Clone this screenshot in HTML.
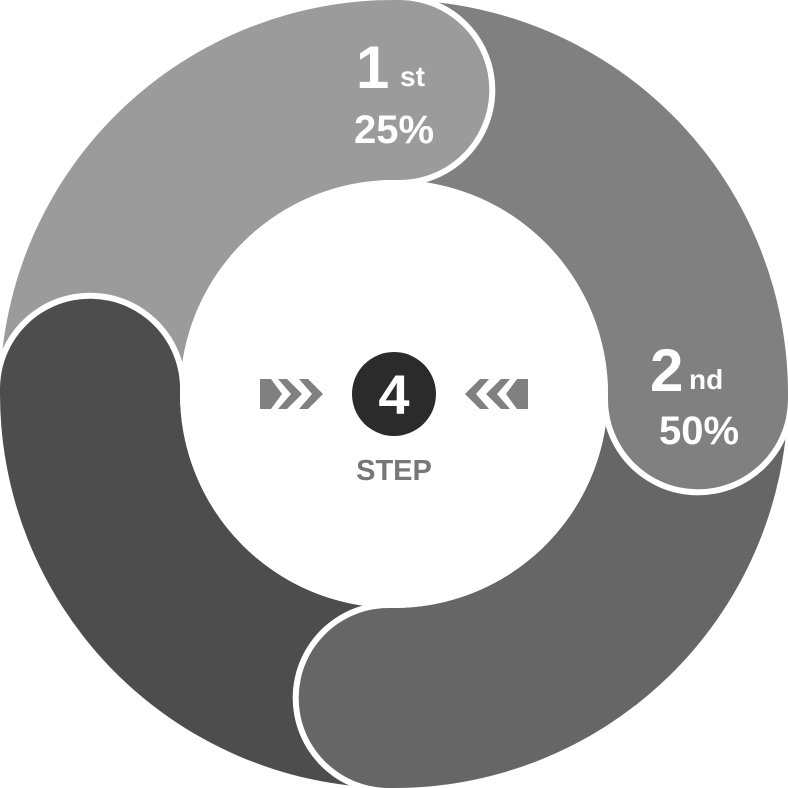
<!DOCTYPE html>
<html><head><style>html,body{margin:0;padding:0;background:#fff}svg{display:block}</style></head>
<body>
<svg width="788" height="788" viewBox="0 0 788 788" xmlns="http://www.w3.org/2000/svg" font-family="Liberation Sans, sans-serif">
<defs>
<path id="sec" d="M394,0 A394,394 0 0 1 788,394 L608,394 A214,214 0 0 0 394,180 Z"/>
<path id="capw" d="M602,394 A96,96 0 0 0 794,394 Z"/>
<path id="cap" d="M608,390 L608,394 A90,90 0 0 0 788,394 L788,390 Z"/>
</defs>
<use href="#sec" fill="#9b9b9b" transform="rotate(-89 394 394)"/>
<use href="#sec" fill="#808080" transform="rotate(1 394 394)"/>
<use href="#sec" fill="#666666" transform="rotate(91 394 394)"/>
<use href="#sec" fill="#4d4d4d" transform="rotate(181 394 394)"/>
<g transform="rotate(-89 394 394)"><use href="#capw" fill="#fff"/><use href="#cap" fill="#9b9b9b"/></g>
<g transform="rotate(1 394 394)"><use href="#capw" fill="#fff"/><use href="#cap" fill="#808080"/></g>
<g transform="rotate(91 394 394)"><use href="#capw" fill="#fff"/><use href="#cap" fill="#666666"/></g>
<g transform="rotate(181 394 394)"><use href="#capw" fill="#fff"/><use href="#cap" fill="#4d4d4d"/></g>
<circle cx="394" cy="394" r="214" fill="#fff"/>
<g fill="#fff" font-weight="bold">
<text x="356" y="88" font-size="60">1</text>
<text x="400" y="86" font-size="28">st</text>
<text x="394" y="143" font-size="40" text-anchor="middle">25%</text>
<text x="650" y="391" font-size="60">2</text>
<text x="689" y="389" font-size="28">nd</text>
<text x="699" y="444" font-size="40" text-anchor="middle">50%</text>
</g>
<circle cx="394" cy="394" r="42" fill="#2b2b2b"/>
<text x="394" y="414" font-size="56" font-weight="bold" fill="#fff" text-anchor="middle">4</text>
<text x="394" y="480" font-size="29" font-weight="bold" fill="#777" text-anchor="middle">STEP</text>
<g fill="#808080">
<polygon points="260,379 271,379 282,394 271,409 260,409"/>
<polygon points="278,379 287,379 302,394 287,409 278,409 291,394"/>
<polygon points="299,379 308,379 323,394 308,409 299,409 312,394"/>
<polygon points="528,379 517,379 506,394 517,409 528,409"/>
<polygon points="510,379 501,379 486,394 501,409 510,409 497,394"/>
<polygon points="489,379 480,379 465,394 480,409 489,409 476,394"/>
</g>
</svg>
</body></html>
